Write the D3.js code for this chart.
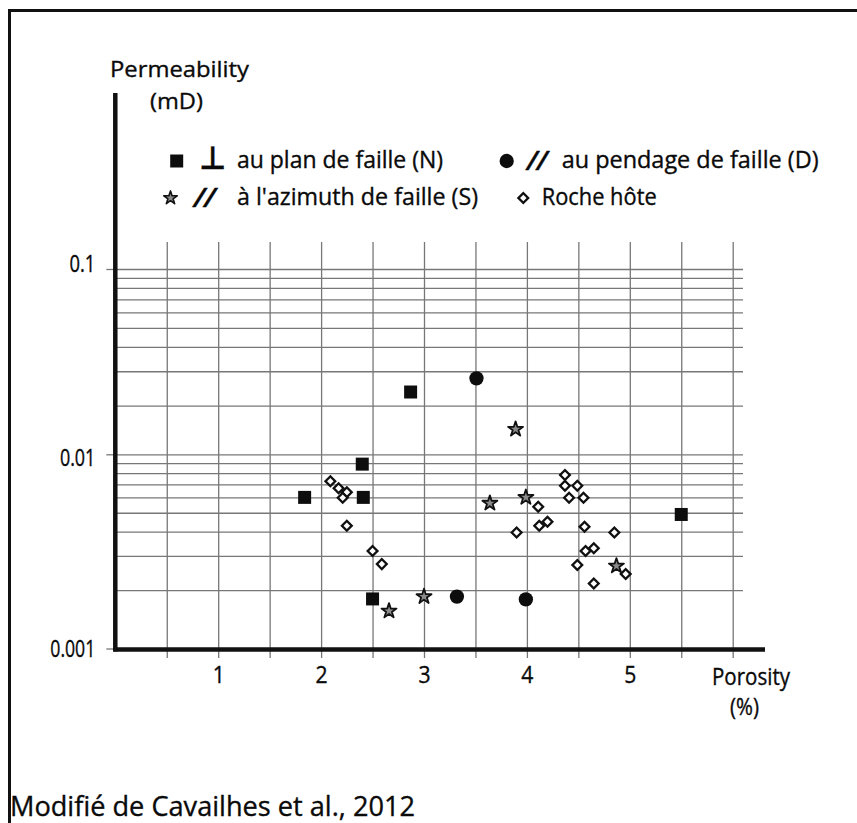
<!DOCTYPE html>
<html>
<head>
<meta charset="utf-8">
<script src="https://cdn.jsdelivr.net/npm/d3@7"></script>
<style>
  body { margin: 0; background: #fff; }
  svg { display: block; }
  text { font-family: "Open Sans", "Noto Sans", sans-serif; fill: #0a0a0a;
         stroke: #0a0a0a; stroke-width: 0.35px; }
</style>
</head>
<body>
<div id="chart"></div>
<script>
// ---- data: [porosity %, permeability mD] ----
const perpPlane = [      // ⊥ au plan de faille (N)
  [1.84, 0.0060], [2.40, 0.0089], [2.41, 0.0060], [2.50, 0.0018], [2.87, 0.0235], [5.50, 0.0049]
];
const dipParallel = [    // // au pendage de faille (D)
  [3.32, 0.00185], [3.51, 0.0276], [3.99, 0.00179]
];
const strikeParallel = [ // // à l'azimuth de faille (S)
  [2.66, 0.00156], [3.00, 0.00185], [3.64, 0.0056], [3.89, 0.0143], [3.99, 0.0060], [4.87, 0.00266]
];
const hostRock = [       // Roche hôte
  [2.09, 0.00726], [2.17, 0.00668], [2.25, 0.00637], [2.21, 0.00598], [2.25, 0.00429],
  [2.50, 0.00318], [2.59, 0.00272],
  [4.37, 0.00782], [4.37, 0.00689], [4.49, 0.00689], [4.41, 0.00598], [4.55, 0.00598],
  [4.11, 0.00537], [4.20, 0.00449], [4.12, 0.00429], [3.90, 0.00396], [4.56, 0.00424],
  [4.85, 0.00396], [4.65, 0.00328], [4.57, 0.00318], [4.49, 0.00269], [4.96, 0.00242],
  [4.65, 0.00216]
];

const porosityTicks = [1, 2, 3, 4, 5];
const porosityGrid = [0.5, 1, 1.5, 2, 2.5, 3, 3.5, 4, 4.5, 5, 5.5, 6];
const permTicks = [0.001, 0.01, 0.1];
const permTickLabels = ["0.001", "0.01", "0.1"];
const permGrid = [0.002, 0.003, 0.004, 0.005, 0.006, 0.007, 0.008, 0.009, 0.01,
                  0.02, 0.03, 0.04, 0.05, 0.06, 0.07, 0.08, 0.09, 0.1];

// ---- layout ----
const W = 857, H = 823;
const plot = { left: 115.3, right: 732.7, gridRight: 743, axisRight: 765,
               bottom: 649.5, gridTop: 242, axisTop: 93 };

const svg = d3.select("#chart").append("svg")
  .attr("width", W).attr("height", H)
  .style("background", "#fff");

// scales: linear porosity; log permeability (hand-drawn decades, piecewise)
const x = d3.scaleLinear().domain([0, 6]).range([plot.left, plot.right]);
const y = d3.scaleLog()
  .domain([0.001, 0.01, 0.02, 0.1])
  .range([plot.bottom - 1, 454.3, 405.7, 269]);

// outer frame (top and left edges)
svg.append("path")
  .attr("d", `M9.5,${H + 10} V10.5 H${W + 10}`)
  .attr("fill", "none").attr("stroke", "#111").attr("stroke-width", 3);

// ---- grid ----
const gridColor = "#777";
const xGrid = svg.append("g")
  .attr("transform", `translate(0,658)`)
  .call(d3.axisBottom(x).tickValues(porosityGrid).tickSize(-(658 - plot.gridTop)).tickFormat(""));
xGrid.select(".domain").remove();
xGrid.selectAll(".tick line").attr("stroke", gridColor).attr("stroke-width", 1.3);

const yGrid = svg.append("g")
  .attr("transform", `translate(${plot.gridRight},0)`)
  .call(d3.axisLeft(y).tickValues(permGrid).tickSize(plot.gridRight - plot.left).tickFormat(""));
yGrid.select(".domain").remove();
yGrid.selectAll(".tick line").attr("stroke", gridColor).attr("stroke-width", 1.3);

// ---- axes ----
const xAxis = svg.append("g")
  .attr("transform", `translate(0,${plot.bottom})`)
  .call(d3.axisBottom(x).tickValues(porosityTicks).tickSize(0).tickPadding(17).tickFormat(d3.format("d")));
xAxis.select(".domain").remove();
xAxis.selectAll("text").style("font-size", "23px").attr("fill", "#0a0a0a")
  .attr("transform", "scale(0.92,1)");

const labelNudge = { "0.1": -6.5, "0.01": 2, "0.001": -1 };
const yAxis = svg.append("g")
  .attr("transform", `translate(${plot.left},0)`)
  .call(d3.axisLeft(y).tickValues(permTicks).tickSize(9).tickPadding(11)
        .tickFormat((d, i) => permTickLabels[i]));
yAxis.select(".domain").remove();
yAxis.selectAll(".tick line").attr("stroke", gridColor).attr("stroke-width", 1.3);
yAxis.selectAll("text")
  .style("font-size", "23px").attr("fill", "#0a0a0a")
  .attr("dy", null).attr("dominant-baseline", "central")
  .attr("textLength", function () { return this.textContent.length * 9.6 - 3; })
  .attr("lengthAdjust", "spacingAndGlyphs")
  .attr("y", function () { return labelNudge[this.textContent] || 0; });

// thick axis lines
svg.append("line")
  .attr("x1", plot.left - 2).attr("x2", plot.axisRight)
  .attr("y1", plot.bottom).attr("y2", plot.bottom)
  .attr("stroke", "#111").attr("stroke-width", 4.5);
svg.append("line")
  .attr("x1", plot.left).attr("x2", plot.left)
  .attr("y1", plot.axisTop).attr("y2", plot.bottom + 2)
  .attr("stroke", "#111").attr("stroke-width", 4.5);

// ---- text helper ----
function label(str, px, py, size, len, extra) {
  const t = svg.append("text")
    .attr("x", px).attr("y", py)
    .style("font-size", size + "px")
    .text(str);
  if (len) t.attr("textLength", len).attr("lengthAdjust", "spacingAndGlyphs");
  if (extra) extra(t);
  return t;
}

// axis titles
label("Permeability", 110, 77, 22, 139);
label("(mD)", 150, 109, 22, 53);
label("Porosity", 712, 685, 23, 78);
label("(%)", 730, 715, 23, 29);
label("Modifié de Cavailhes et al., 2012", 10, 816, 28, 405);

// ---- marks ----
const sym = (type, size) => d3.symbol().type(type).size(size)();
const squarePath = sym(d3.symbolSquare, 169);
const circlePath = sym(d3.symbolCircle, 160);
const starPath = sym(d3.symbolStar, 70);
const diamondPath = sym(d3.symbolSquare, 48);

const marks = svg.append("g");
marks.selectAll(".n").data(perpPlane).join("path")
  .attr("class", "n").attr("d", squarePath)
  .attr("transform", d => `translate(${x(d[0])},${y(d[1])})`)
  .attr("fill", "#0d0d0d");
marks.selectAll(".dd").data(dipParallel).join("path")
  .attr("class", "dd").attr("d", circlePath)
  .attr("transform", d => `translate(${x(d[0])},${y(d[1])})`)
  .attr("fill", "#0d0d0d");
marks.selectAll(".s").data(strikeParallel).join("path")
  .attr("class", "s").attr("d", starPath)
  .attr("transform", d => `translate(${x(d[0])},${y(d[1])})`)
  .attr("fill", "#8a8a8a").attr("stroke", "#111").attr("stroke-width", 1.8)
  .attr("stroke-linejoin", "round");
marks.selectAll(".h").data(hostRock).join("path")
  .attr("class", "h").attr("d", diamondPath)
  .attr("transform", d => `translate(${x(d[0])},${y(d[1])}) rotate(45)`)
  .attr("fill", "#fff").attr("stroke", "#111").attr("stroke-width", 2.3);

// ---- legend ----
const lg = svg.append("g");
lg.append("path").attr("d", squarePath).attr("transform", "translate(176.7,161)").attr("fill", "#0d0d0d");
label("⊥", 199, 169, 32, 27, t => t.style("font-family", "DejaVu Sans").style("font-weight", "bold"));
label("au plan de faille (N)", 237, 168, 23, 206);

lg.append("path").attr("d", circlePath).attr("transform", "translate(506.7,161)").attr("fill", "#0d0d0d");
label("//", 528, 168, 23, 20, t => t.style("font-family", "DejaVu Sans").style("font-weight", "bold").style("font-style", "italic"));
label("au pendage de faille (D)", 561.7, 168, 23, 257);

lg.append("path").attr("d", sym(d3.symbolStar, 56)).attr("transform", "translate(170.5,198)")
  .attr("fill", "#8a8a8a").attr("stroke", "#111").attr("stroke-width", 1.6).attr("stroke-linejoin", "round");
label("//", 195, 205, 23, 21, t => t.style("font-family", "DejaVu Sans").style("font-weight", "bold").style("font-style", "italic"));
label("à l'azimuth de faille (S)", 237, 205, 23, 241);

lg.append("path").attr("d", diamondPath).attr("transform", "translate(523.3,198) rotate(45)")
  .attr("fill", "#fff").attr("stroke", "#111").attr("stroke-width", 2.3);
label("Roche hôte", 541.7, 205, 23, 115);
</script>
</body>
</html>
